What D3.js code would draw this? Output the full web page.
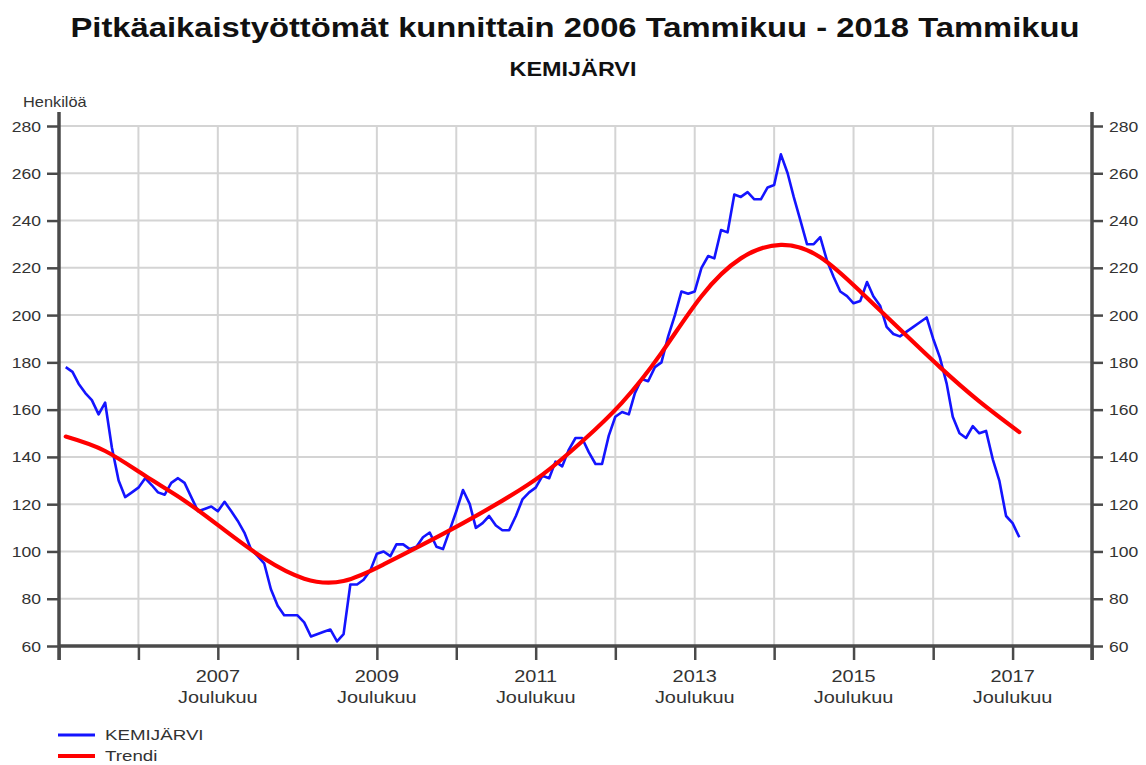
<!DOCTYPE html>
<html>
<head>
<meta charset="utf-8">
<script src="https://cdn.jsdelivr.net/npm/d3@7"></script>
<style>
  body { margin: 0; background: #fff; }
  svg text { font-family: "Liberation Sans", Arial, sans-serif; }
</style>
</head>
<body>
<svg id="chart" width="1146" height="765"></svg>
<script>
// monthly values, 2006 Tammikuu .. 2018 Tammikuu
var startMonth = new Date(2006, 0, 1);
var kemijarvi = [
  178,176,171,167,164,158,163,144,130,123,
  125,127,131,128,125,124,129,131,129,123,
  117,118,119,117,121,117,113,108,101,98,
  95,84,77,73,73,73,70,64,65,66,
  67,62,65,86,86,88,92,99,100,98,
  103,103,101,102,106,108,102,101,109,117,
  126,120,110,112,115,111,109,109,115,122,
  125,127,132,131,138,136,143,148,148,142,
  137,137,149,157,159,158,167,173,172,178,
  180,191,200,210,209,210,220,225,224,236,
  235,251,250,252,249,249,254,255,268,260,
  250,240,230,230,233,223,216,210,208,205,
  206,214,208,204,195,192,191,193,195,197,
  199,190,182,171,157,150,148,153,150,151,
  139,130,115,112,106
];
// trend read every 6 months
var trendStep = 6;
var trendi = [
  148.6, 142.5, 132, 121.5, 109, 97, 88.5, 87.5, 94.5, 103,
  112, 121.5, 132.5, 146.5, 163, 184, 208, 224, 229.7, 224.5,
  210, 194, 178, 163.5, 150.5
];
var yTicks = [60, 80, 100, 120, 140, 160, 180, 200, 220, 240, 260, 280];
var tickYears = d3.range(2005, 2019);           // Joulukuu ticks
var labelYears = [2007, 2009, 2011, 2013, 2015, 2017];

var svg = d3.select("#chart");
var pLeft = 59, pRight = 1092, pTop = 126, pBottom = 646;
var stretch = 1.17;   // the original text is a bit wider than Arial

var x = d3.scaleTime()
  .domain([new Date(2005, 11, 1), new Date(2018, 11, 1)])
  .range([pLeft, pRight]);
var y = d3.scaleLinear().domain([60, 280]).range([pBottom, pTop]);

var blueData = kemijarvi.map(function(v, i) {
  return { date: d3.timeMonth.offset(startMonth, i), value: v };
});
var trendData = trendi.map(function(v, i) {
  return { date: d3.timeMonth.offset(startMonth, i * trendStep), value: v };
});
var tickDates = tickYears.map(function(yr) { return new Date(yr, 11, 1); });

// text helper, stretched horizontally around its anchor
function label(g, tx, ty, txt, size, anchor, weight, sx) {
  return g.append("text")
    .attr("transform", "translate(" + tx + "," + ty + ") scale(" + (sx || stretch) + ",1)")
    .attr("text-anchor", anchor || "start")
    .style("font-size", size + "px")
    .style("font-weight", weight || "normal")
    .attr("fill", "#333")
    .text(txt);
}

// grid
svg.append("g").selectAll("line").data(yTicks.slice(1)).enter().append("line")
  .attr("x1", pLeft).attr("x2", pRight)
  .attr("y1", d => y(d)).attr("y2", d => y(d))
  .attr("stroke", "#d4d4d4").attr("stroke-width", 2);
svg.append("g").selectAll("line").data(tickDates.slice(1, -1)).enter().append("line")
  .attr("x1", d => x(d)).attr("x2", d => x(d))
  .attr("y1", pTop).attr("y2", pBottom)
  .attr("stroke", "#d4d4d4").attr("stroke-width", 2);

// axes
var axisColor = "#4a4a4a";
var gl = svg.append("g").attr("transform", "translate(" + pLeft + ",0)")
  .call(d3.axisLeft(y).tickValues(yTicks).tickSize(12).tickFormat(""));
var gr = svg.append("g").attr("transform", "translate(" + pRight + ",0)")
  .call(d3.axisRight(y).tickValues(yTicks).tickSize(11).tickFormat(""));
var gb = svg.append("g").attr("transform", "translate(0," + pBottom + ")")
  .call(d3.axisBottom(x).tickValues(tickDates).tickSize(14).tickFormat(""));
[gl, gr, gb].forEach(function(g) {
  g.select(".domain").remove();
  g.selectAll(".tick line").attr("stroke", axisColor).attr("stroke-width", 2.5);
});

// y tick labels both sides
var yl = svg.append("g");
yTicks.forEach(function(v) {
  label(yl, 41, y(v) + 5.5, v, 15, "end");
  label(yl, 1109, y(v) + 5.5, v, 15, "start");
});

// axis lines
svg.append("line").attr("x1", pLeft).attr("x2", pLeft).attr("y1", 112).attr("y2", 660)
  .attr("stroke", axisColor).attr("stroke-width", 3.5);
svg.append("line").attr("x1", pRight).attr("x2", pRight).attr("y1", 112).attr("y2", 660)
  .attr("stroke", axisColor).attr("stroke-width", 3.5);
svg.append("line").attr("x1", pLeft).attr("x2", pRight).attr("y1", pBottom).attr("y2", pBottom)
  .attr("stroke", axisColor).attr("stroke-width", 3.5);

// bottom labels
var bl = svg.append("g");
labelYears.forEach(function(yr) {
  var cx = x(new Date(yr, 11, 1));
  label(bl, cx, 682, yr, 17, "middle");
  label(bl, cx, 703, "Joulukuu", 17, "middle");
});

// lines
var line = d3.line().x(d => x(d.date)).y(d => y(d.value));
svg.append("path").datum(blueData).attr("d", line)
  .attr("fill", "none").attr("stroke", "#1414ff").attr("stroke-width", 2.6)
  .attr("stroke-linejoin", "round");
svg.append("path").datum(trendData).attr("d", line.curve(d3.curveNatural))
  .attr("fill", "none").attr("stroke", "#ff0000").attr("stroke-width", 4.2)
  .attr("stroke-linecap", "round");

// titles
label(svg, 575, 37, "Pitkäaikaistyöttömät kunnittain 2006 Tammikuu - 2018 Tammikuu", 28, "middle", "bold")
  .attr("fill", "#111");
label(svg, 573, 76, "KEMIJÄRVI", 20, "middle", "bold").attr("fill", "#111");
label(svg, 23, 107, "Henkilöä", 14, "start");

// legend
var legend = [
  { name: "KEMIJÄRVI", color: "#1414ff", w: 3 },
  { name: "Trendi", color: "#ff0000", w: 4 }
];
legend.forEach(function(d, i) {
  var ly = 735 + i * 21;
  svg.append("line").attr("x1", 58).attr("x2", 95).attr("y1", ly).attr("y2", ly)
    .attr("stroke", d.color).attr("stroke-width", d.w);
  label(svg, 105, ly + 5, d.name, 15, "start", "normal", 1.25);
});
</script>
</body>
</html>
